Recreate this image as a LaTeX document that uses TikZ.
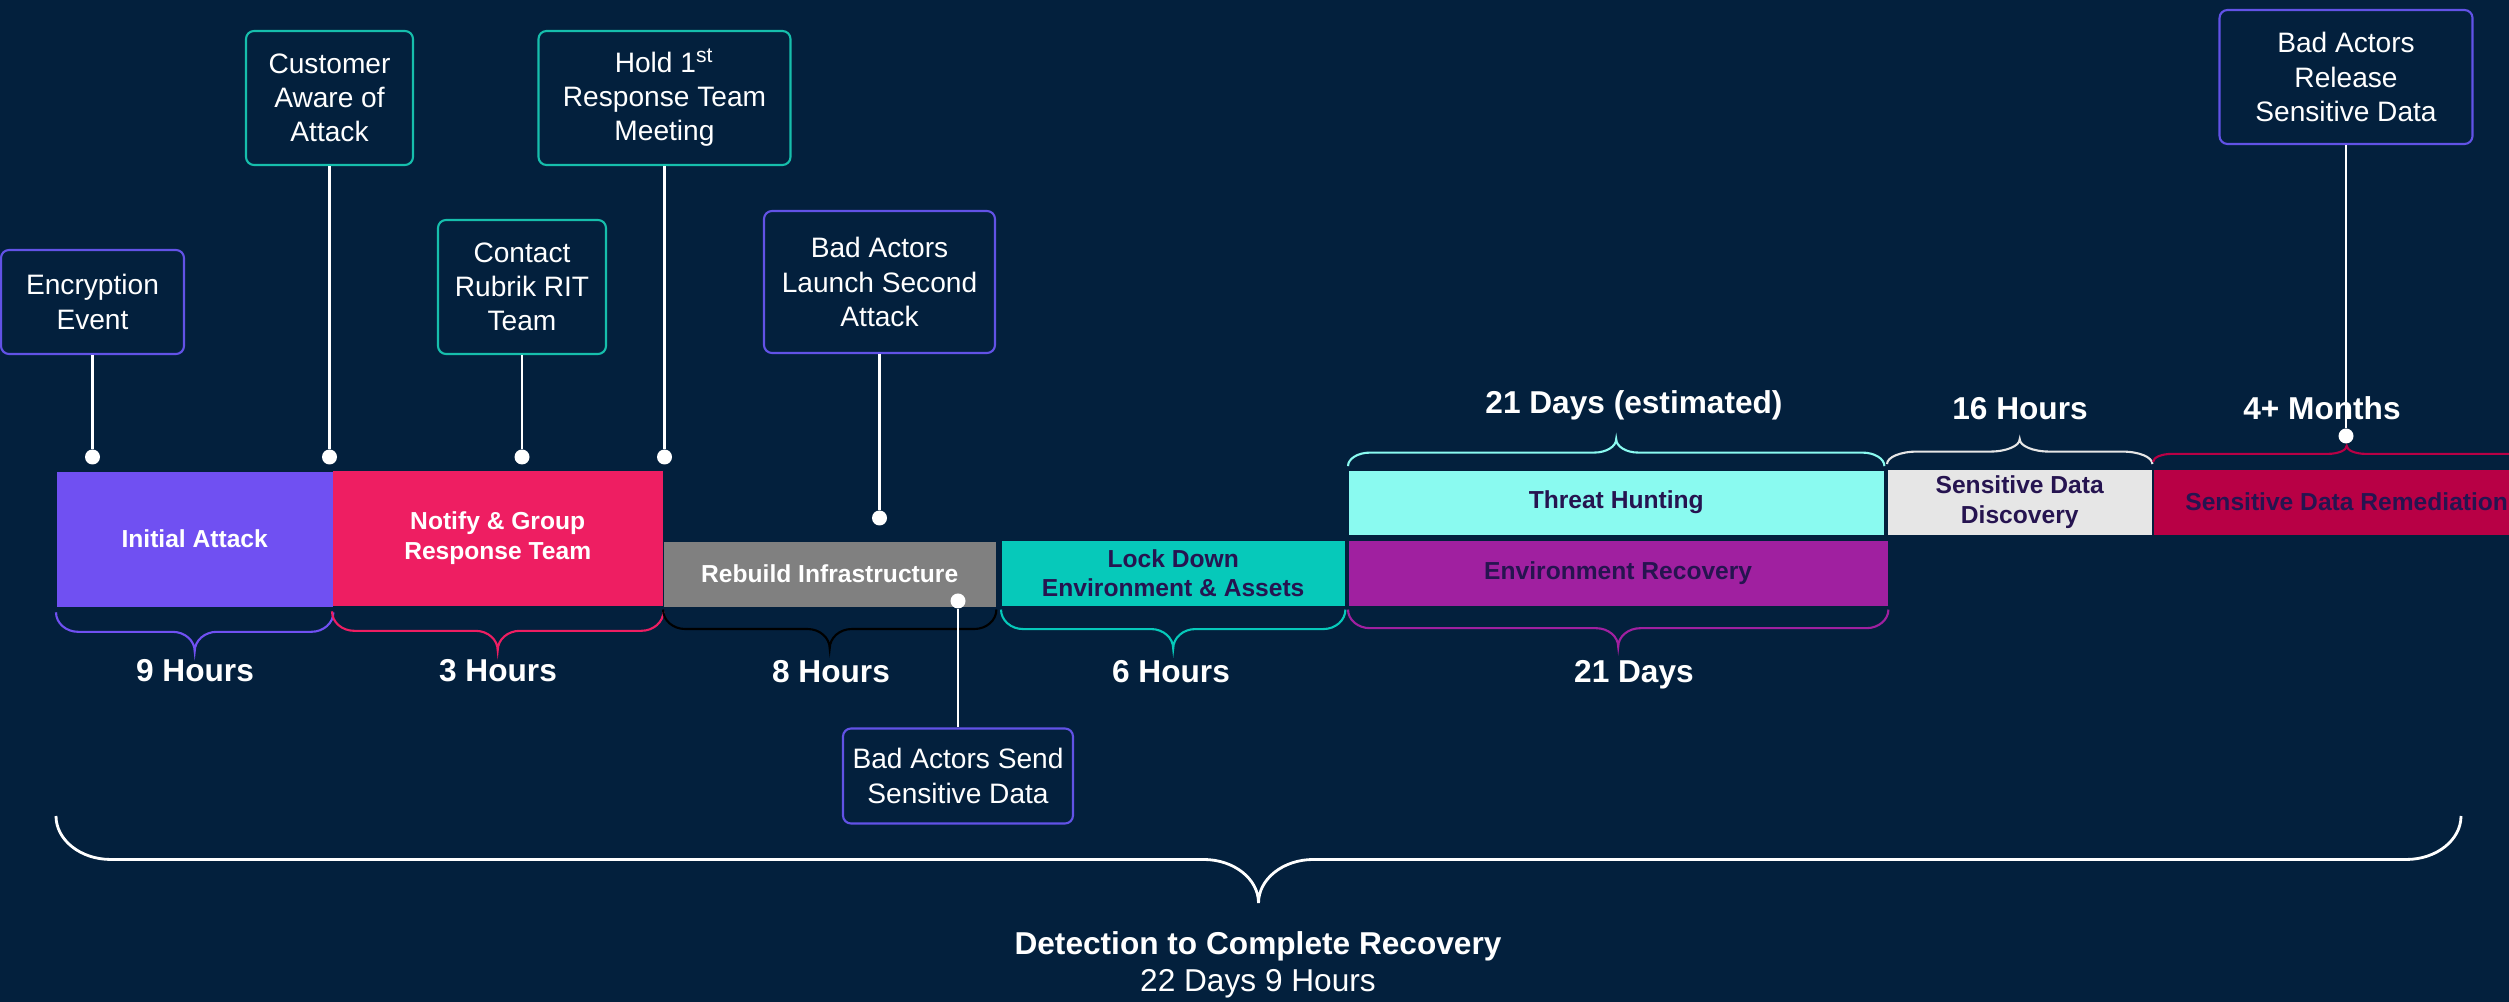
\documentclass[tikz,border=0pt]{standalone}
\usepackage{fontspec}
\setmainfont{Liberation Sans}
\usepackage{tikz}
\usetikzlibrary{shapes,arrows,calc,backgrounds,positioning,fit}

\definecolor{Navy}{RGB}{3,32,61}
\definecolor{EvViolet}{RGB}{98,82,230}
\definecolor{EvTeal}{RGB}{22,190,172}
\definecolor{IniPurple}{RGB}{112,80,242}
\definecolor{NotifyRed}{RGB}{238,30,98}
\definecolor{RebuildGray}{RGB}{128,128,128}
\definecolor{LockTeal}{RGB}{6,201,186}
\definecolor{HuntCyan}{RGB}{138,250,240}
\definecolor{RecMagenta}{RGB}{160,32,160}
\definecolor{DiscGray}{RGB}{230,230,230}
\definecolor{RemCrimson}{RGB}{184,0,69}
\definecolor{InkPurple}{RGB}{38,20,80}

\tikzset{Curly/.style n args={3}{line width=0.6pt, to path={let \p1=(\tikztostart), \p2=(\tikztotarget), \p3=($(\p1)!0.5!(\p2)$) in
	({\x1}, {\y1+(#1)}) .. controls ({\x1}, {\y1+(#1)+0.276*(#2)}) and ({\x1+0.448*(#3)}, {\y1+(#1)+0.5*(#2)}) .. ({\x1+(#3)}, {\y1+(#1)+0.5*(#2)})
	-- ({\x3-(#3)}, {\y1+(#1)+0.5*(#2)}) .. controls ({\x3-0.448*(#3)}, {\y1+(#1)+0.5*(#2)}) and ({\x3}, {\y1+(#1)+0.724*(#2)}) .. ({\x3}, {\y1+(#1)+(#2)})
	.. controls ({\x3}, {\y1+(#1)+0.724*(#2)}) and ({\x3+0.448*(#3)}, {\y1+(#1)+0.5*(#2)}) .. ({\x3+(#3)}, {\y1+(#1)+0.5*(#2)})
	-- ({\x2-(#3)}, {\y1+(#1)+0.5*(#2)}) .. controls ({\x2-0.448*(#3)}, {\y1+(#1)+0.5*(#2)}) and ({\x2}, {\y1+(#1)+0.276*(#2)}) .. ({\x2}, {\y1+(#1)})}}}

\begin{document}
\begin{tikzpicture}[x=0.1mm, y=-0.1mm]
		\tikzstyle{Event}	= [rectangle, draw, rounded corners=0.8mm, line width=0.6pt, text=white, align=center, font=\fontsize{8}{9.7}\selectfont, inner sep=0pt]
		\tikzstyle{Violet}	= [draw=EvViolet]
		\tikzstyle{Teal}	= [draw=EvTeal]
		\tikzstyle{Bar}		= [rectangle, anchor=north west, inner sep=0pt, align=center, font=\bfseries\fontsize{7}{8.4}\selectfont]
		\tikzstyle{Light}	= [text=white]
		\tikzstyle{Dark}	= [text=InkPurple]
		\tikzstyle{Dot}		= [circle, fill=white, minimum size=1.5mm, inner sep=0pt]
		\tikzstyle{Stem}	= [white, line width=0.7pt]
		\tikzstyle{Span}	= [text=white, font=\bfseries\fontsize{9}{11}\selectfont]

		\clip (0, 0) rectangle (2509, 1002);
		\fill [Navy] (0, 0) rectangle (2509, 1002);

		\node (b1) at (56, 471) [Bar][Light, fill=IniPurple, minimum width=27.6mm, minimum height=13.5mm] {Initial Attack};
		\node (b2) at (332, 470) [Bar][Light, fill=NotifyRed, minimum width=33.0mm, minimum height=13.5mm] {Notify \& Group\\Response Team};
		\node (b3) at (663, 541) [Bar][Light, fill=RebuildGray, minimum width=33.2mm, minimum height=6.5mm] {Rebuild Infrastructure};
		\node (b4) at (1001, 540) [Bar][Dark, fill=LockTeal, minimum width=34.3mm, minimum height=6.5mm] {Lock Down\\Environment \& Assets};
		\node (b5) at (1348, 470) [Bar][Dark, fill=HuntCyan, minimum width=53.5mm, minimum height=6.4mm] {Threat Hunting};
		\node (b6) at (1348, 540) [Bar][Dark, fill=RecMagenta, minimum width=53.9mm, minimum height=6.5mm] {Environment Recovery};
		\node (b7) at (1887, 469) [Bar][Dark, fill=DiscGray, minimum width=26.4mm, minimum height=6.5mm] {Sensitive Data\\Discovery};
		\node (b8) at (2153, 469) [Bar][Dark, fill=RemCrimson, minimum width=38.6mm, minimum height=6.5mm] {Sensitive Data Remediation};

		\draw [Curly={-1.4pt}{-11.1pt}{6.3pt}, IniPurple] (b1.south west) to (b1.south east);
		\draw [Curly={-1.4pt}{-11.1pt}{6.3pt}, NotifyRed] (b2.south west) to (b2.south east);
		\draw [Curly={-0.6pt}{-11.1pt}{6.3pt}, black] (b3.south west) to (b3.south east);
		\draw [Curly={-0.9pt}{-11.1pt}{6.3pt}, LockTeal] (b4.south west) to (b4.south east);
		\draw [Curly={-0.9pt}{-10.6pt}{6.3pt}, RecMagenta] (b6.south west) to (b6.south east);
		\draw [Curly={1.1pt}{7.7pt}{6.3pt}, HuntCyan] (b5.north west) to (b5.north east);
		\draw [Curly={1.4pt}{7.1pt}{8.5pt}, DiscGray] (b7.north west) to (b7.north east);
		\draw [Curly={2pt}{4.6pt}{5.4pt}, RemCrimson] (b8.north west) to (b8.north east);

		\node (s1) at (195, 671) [Span] {9 Hours};
		\node (s2) at (498, 671) [Span] {3 Hours};
		\node (s3) at (831, 672) [Span] {8 Hours};
		\node (s4) at (1171, 672) [Span] {6 Hours};
		\node (s5) at (1634, 675) [Span] {21 Days};
		\node (s6) at (1634, 405) [Span] {21 Days (estimated)};
		\node (s7) at (2020, 409) [Span] {16 Hours};
		\node (s8) at (2322, 408) [Span] {4+ Months};

		\node (e1) at (92.5, 302) [Event][Violet, minimum width=18.3mm, minimum height=10.4mm] {Encryption\\Event};
		\node (e2) at (329.5, 98) [Event][Teal, minimum width=16.7mm, minimum height=13.4mm] {Customer\\Aware of\\Attack};
		\node (e3) at (522, 287) [Event][Teal, minimum width=16.8mm, minimum height=13.4mm] {Contact\\Rubrik RIT\\Team};
		\node (e4) at (664.5, 98) [Event][Teal, minimum width=25.2mm, minimum height=13.4mm] {Hold 1\textsuperscript{st}\\Response Team\\Meeting};
		\node (e5) at (879.5, 282) [Event][Violet, minimum width=23.1mm, minimum height=14.2mm] {Bad Actors\\Launch Second\\Attack};
		\node (e6) at (958, 776) [Event][Violet, minimum width=23.0mm, minimum height=9.5mm] {Bad Actors Send\\Sensitive Data};
		\node (e7) at (2346, 77) [Event][Violet, minimum width=25.3mm, minimum height=13.4mm] {Bad Actors\\Release\\Sensitive Data};

		\node (d1) at (92.5, 457) [Dot] {};
		\node (d2) at (329.5, 457) [Dot] {};
		\node (d3) at (522, 457) [Dot] {};
		\node (d4) at (664.5, 457) [Dot] {};
		\node (d5) at (879.5, 518) [Dot] {};
		\node (d6) at (958, 601) [Dot] {};
		\node (d7) at (2346, 436) [Dot] {};

		\draw [-] (e1) to (d1) [Stem];
		\draw [-] (e2) to (d2) [Stem];
		\draw [-] (e3) to (d3) [Stem];
		\draw [-] (e4) to (d4) [Stem];
		\draw [-] (e5) to (d5) [Stem];
		\draw [-] (d6) to (e6) [Stem];
		\draw [-] (e7) to (d7) [Stem];

		\coordinate (t1) at (56, 816);
		\coordinate (t2) at (2461, 816);
		\draw [Curly={0pt}{-24.75pt}{15.6pt}, white, line width=0.8pt] (t1) to (t2);

		\node (f1) at (1258, 946) [Span] {Detection to Complete Recovery};
		\node (f2) at (1258, 984) [text=white, font=\fontsize{9}{11}\selectfont] {22 Days 9 Hours};
\end{tikzpicture}
\end{document}
